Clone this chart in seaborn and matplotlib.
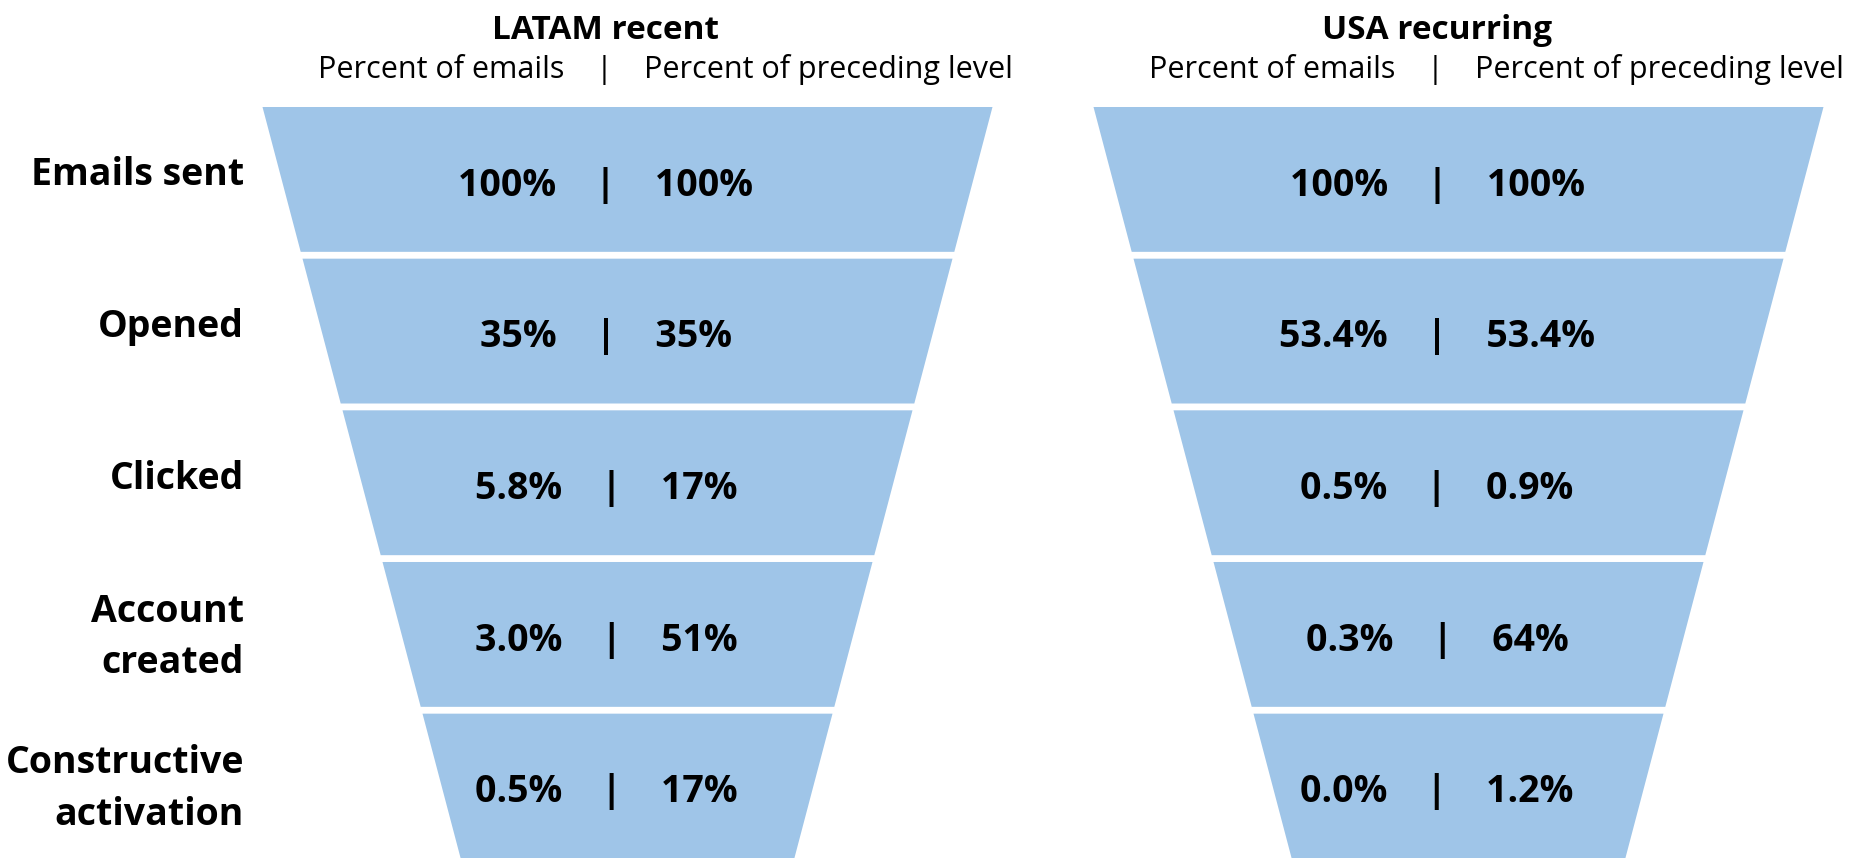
import pandas as pd
import seaborn as sns
import matplotlib.pyplot as plt

# funnel stages (top to bottom)
stages = ["Emails sent", "Opened", "Clicked", "Account\ncreated", "Constructive\nactivation"]

latam_pct_emails = ["100%", "35%", "5.8%", "3.0%", "0.5%"]
latam_pct_prev = ["100%", "35%", "17%", "51%", "17%"]

usa_pct_emails = ["100%", "53.4%", "0.5%", "0.3%", "0.0%"]
usa_pct_prev = ["100%", "53.4%", "0.9%", "64%", "1.2%"]

panel_titles = ["LATAM recent", "USA recurring"]
col_left = "Percent of emails"
col_right = "Percent of preceding level"


def draw_funnel(ax, df, title, show_labels):
    gap = 0.045
    color = "#9fc5e8"
    txt_x = -21

    for i, row in df.iterrows():
        y0 = i - 0.5
        y1 = i + 0.5 - gap
        hw0 = 365 - 40 * (y0 + 0.5)
        hw1 = 365 - 40 * (y1 + 0.5)
        ax.fill_betweenx([y0, y1], [-hw0, -hw1], [hw0, hw1], color=color, lw=0)

        ax.text(txt_x, i + 0.087, f"{row['emails']}    |    {row['prev']}",
                ha="center", va="baseline", fontsize=27, fontweight="bold", color="black")

        if show_labels:
            lines = row["stage"].split("\n")
            if len(lines) == 1:
                ax.text(-383, i + 0.02, lines[0], ha="right", va="baseline",
                        fontsize=27, fontweight="bold", color="black", clip_on=False)
            else:
                for j, ln in enumerate(lines):
                    ax.text(-383, i - 0.104 + 0.34 * j, ln, ha="right", va="baseline",
                            fontsize=27, fontweight="bold", color="black", clip_on=False)

    # headers
    ax.text(txt_x, -0.945, title, ha="center", va="baseline",
            fontsize=24, fontweight="bold", color="black", clip_on=False)
    ax.text(-63, -0.688, col_left, ha="right", va="baseline", fontsize=22,
            color="black", clip_on=False)
    ax.text(-23, -0.688, "|", ha="center", va="baseline", fontsize=22,
            color="black", clip_on=False)
    ax.text(17, -0.688, col_right, ha="left", va="baseline", fontsize=22,
            color="black", clip_on=False)

    ax.set_xlim(-400, 400)
    ax.set_ylim(4.455, -0.5)
    ax.axis("off")


sns.set_theme(style="white")
plt.rcParams["font.family"] = ["Open Sans", "DejaVu Sans"]

latam = pd.DataFrame({"stage": stages, "emails": latam_pct_emails, "prev": latam_pct_prev})
usa = pd.DataFrame({"stage": stages, "emails": usa_pct_emails, "prev": usa_pct_prev})

W, H = 1856, 858
fig = plt.figure(figsize=(W / 100, H / 100), dpi=100)

centers = [627, 1458]
for k, (df, title) in enumerate(zip([latam, usa], panel_titles)):
    ax = fig.add_axes([(centers[k] - 400) / W, 0, 800 / W, (H - 106.5) / H])
    draw_funnel(ax, df, title, show_labels=(k == 0))

fig.savefig("out.png", dpi=100)
